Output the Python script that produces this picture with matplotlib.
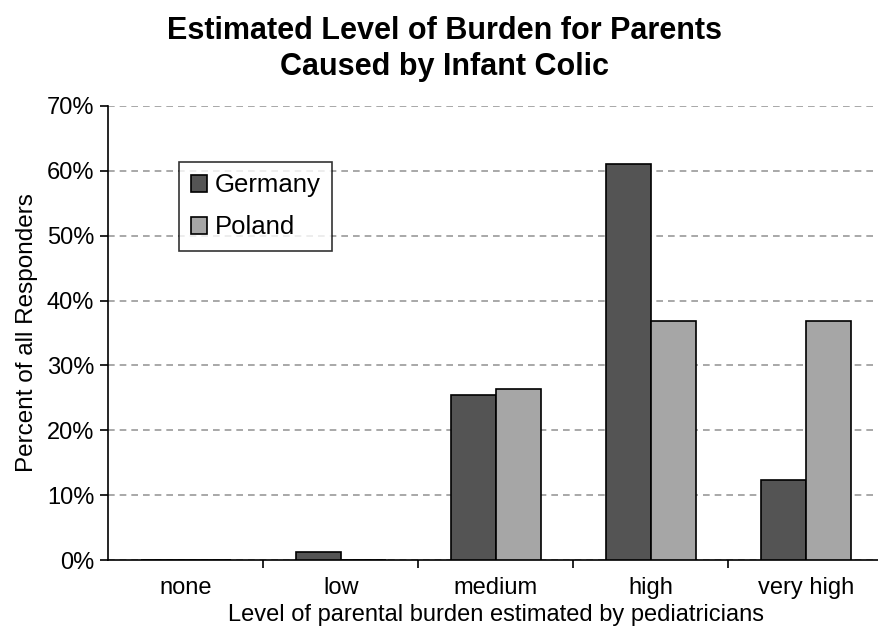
import matplotlib
matplotlib.use("Agg")
import matplotlib.pyplot as plt
import numpy as np
from matplotlib.ticker import PercentFormatter

plt.rcParams['font.family'] = ['Liberation Sans', 'DejaVu Sans']

categories = ["none", "low", "medium", "high", "very high"]
germany = [0.0, 1.3, 25.4, 61.1, 12.4]
poland = [0.0, 0.0, 26.3, 36.9, 36.9]

fig = plt.figure(figsize=(8.79, 6.30), dpi=100)
ax = fig.add_axes([0.123, 0.111, 0.882, 0.721])

x = np.arange(len(categories))
w = 0.29
ax.bar(x - w / 2, germany, w, color="#545454", edgecolor="black", linewidth=1.2, label="Germany", zorder=3)
ax.bar(x + w / 2, poland, w, color="#a6a6a6", edgecolor="black", linewidth=1.2, label="Poland", zorder=3)

ax.set_xlim(-0.5, 4.5)
ax.set_ylim(0, 70)
ax.set_yticks(np.arange(0, 71, 10))
ax.yaxis.set_major_formatter(PercentFormatter(decimals=0))
ax.set_xticks(np.arange(0.5, 4.5, 1.0))
ax.set_xticklabels([])
ax.set_xticks(x, minor=True)
ax.set_xticklabels(categories, minor=True, fontsize=17)
ax.tick_params(axis="x", which="minor", length=0, pad=12)
ax.tick_params(axis="x", which="major", length=6, width=1.2)
ax.tick_params(axis="y", labelsize=17, length=6, width=1.2, pad=4)

ax.yaxis.grid(True, linestyle=(0, (4, 3)), color="#999999", linewidth=1.2, zorder=0)
ax.spines["top"].set_visible(False)
ax.spines["right"].set_visible(False)
ax.spines["left"].set_linewidth(1.2)
ax.spines["bottom"].set_linewidth(1.2)

ax.set_xlabel("Level of parental burden estimated by pediatricians", fontsize=17, labelpad=4)
ax.set_ylabel("Percent of all Responders", fontsize=17.5, labelpad=6)

leg = ax.legend(loc="upper left", bbox_to_anchor=(0.0915, 0.877), borderaxespad=0,
                fontsize=18.5, frameon=True, fancybox=False, edgecolor="black",
                handlelength=0.65, handleheight=0.65, handletextpad=0.3,
                borderpad=0.45, labelspacing=0.7)
leg.get_frame().set_linewidth(1.2)

fig.text(0.506, 0.975, "Estimated Level of Burden for Parents\nCaused by Infant Colic",
         ha="center", va="top", fontsize=22, fontweight="bold", linespacing=1.25)

fig.savefig("out.png", dpi=100)
